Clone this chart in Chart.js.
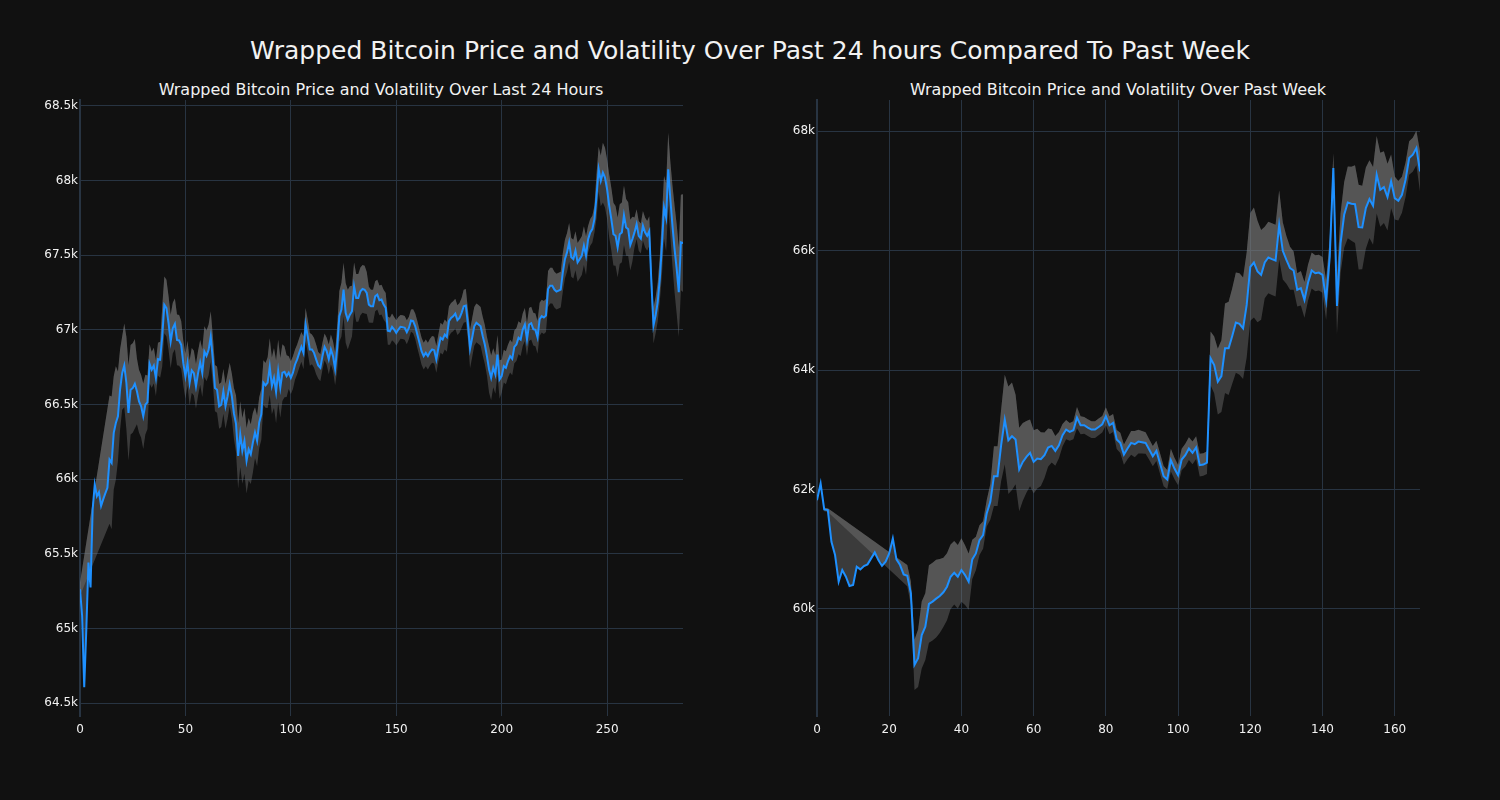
<!DOCTYPE html>
<html>
<head>
<meta charset="utf-8">
<script src="https://cdn.jsdelivr.net/npm/chart.js@4"></script>
<style>
  body { margin: 0; background: #111111; width: 1500px; height: 800px; overflow: hidden; font-family: "DejaVu Sans", sans-serif; color: #f2f2f2; }
  .title { position: absolute; white-space: nowrap; transform: translate(-50%, -50%); }
  .box { position: absolute; top: 90px; width: 720px; height: 660px; }
</style>
</head>
<body>
<div class="title" style="left:750px; top:50px; font-size:25px;">Wrapped Bitcoin Price and Volatility Over Past 24 hours Compared To Past Week</div>
<div class="title" style="left:381px; top:89px; font-size:16px;">Wrapped Bitcoin Price and Volatility Over Last 24 Hours</div>
<div class="title" style="left:1118px; top:89px; font-size:16px;">Wrapped Bitcoin Price and Volatility Over Past Week</div>
<div class="box" style="left:0px;"><canvas id="day" width="720" height="660"></canvas></div>
<div class="box" style="left:737px;"><canvas id="week" width="720" height="660"></canvas></div>
<script>
// 24h price (5 minute steps)
const dayPrice = [
  65263,65085,64606,64996,65441,65274,65797,65964,65886,65913,65820,65864,65904,65942,66131,66109,66310,66376,66421,66599,
  66710,66762,66644,66443,66599,66610,66639,66588,66521,66488,66421,66499,66515,66773,66733,66760,66677,66804,66800,66955,
  67167,67145,67045,66922,67011,67040,66933,66929,66900,66777,66688,66777,66644,66728,66710,66621,66710,66782,66710,66855,
  66826,66866,66955,66800,66610,66599,66488,66499,66588,66488,66555,66635,66557,66440,66370,66156,66301,66189,66256,66123,
  66200,66167,66245,66312,66256,66379,66434,66646,66628,66646,66753,66624,66679,66584,66724,66612,66713,66719,66690,66713,
  66679,66713,66768,66802,66846,66886,66846,67036,66958,66869,66869,66846,66802,66762,66746,66824,66886,66857,66802,66869,
  66824,66739,66880,67091,67136,67269,67114,67069,67102,67125,67292,67214,67214,67258,67274,67269,67247,67169,67158,67158,
  67225,67236,67198,67203,67169,67147,66995,66991,67020,67002,66980,67002,67020,67018,67013,66984,67013,67062,67058,67024,
  66969,66913,66857,66824,66846,66824,66851,66869,66864,66802,66880,66947,66935,66969,66953,67058,67080,67091,67109,67065,
  67080,67114,67158,67163,67036,66873,66947,67024,67047,67036,67024,66958,66902,66824,66735,66679,66746,66702,66835,66668,
  66690,66757,66746,66791,66824,66806,66886,66902,66947,66935,67002,67036,66935,67036,67045,67005,67000,66950,67071,67092,
  67083,67096,67274,67296,67296,67270,67256,67263,67270,67385,67474,67519,67586,67486,67474,67530,67452,67474,67497,67564,
  67497,67608,67653,67675,67742,67898,68076,67998,68053,68020,67942,67831,67742,67641,67630,67552,67641,67653,67768,67686,
  67675,67568,67608,67653,67708,67630,67612,67697,67653,67630,67662,67319,67029,67096,67185,67341,67564,67820,67753,68076,
  67875,67697,67541,67408,67252,67586,67581
];
// 24h volatility (band half width), null = no value
const dayVol = [
  45,null,null,null,null,null,null,null,null,null,null,null,null,null,430,445,380,380,300,270,
  245,280,310,320,300,300,300,220,210,210,220,200,180,130,120,120,120,110,120,200,
  190,190,180,180,170,170,170,170,160,150,150,150,150,150,150,150,150,150,160,170,
  170,170,170,160,155,155,150,150,150,150,150,145,150,170,190,220,220,220,220,220,
  210,200,200,170,170,170,170,150,150,170,190,190,200,210,210,200,190,170,140,110,
  110,110,100,100,100,100,110,110,110,110,100,100,100,90,90,90,90,90,100,100,
  100,110,150,170,180,180,200,200,190,170,160,160,160,160,160,160,140,120,110,110,
  100,100,100,100,100,100,95,90,90,85,85,85,80,80,80,80,75,75,80,85,
  90,90,90,90,90,90,90,90,90,90,90,100,100,100,100,100,100,100,100,100,
  100,100,110,110,100,130,130,130,130,130,130,130,130,130,155,150,130,130,130,130,
  110,110,110,110,110,110,110,110,110,110,110,110,110,110,110,110,110,110,110,110,
  110,110,120,120,120,120,120,120,120,130,130,130,130,130,130,130,130,130,130,130,
  130,90,90,90,90,150,150,170,200,200,200,210,210,210,200,200,200,200,200,190,
  180,170,150,100,100,100,100,100,100,100,100,120,120,120,130,150,200,210,230,245,
  250,270,290,300,300,320,327
];
// past week price (hourly)
const weekPrice = [
  61822,62100,61666,61655,61125,60903,60457,60652,60540,60384,60401,60707,60663,60719,60747,60847,60947,60819,60724,60791,
  60930,61181,60830,60735,60579,60557,60262,59064,59175,59565,59705,60084,60123,60173,60217,60279,60373,60540,60607,60540,
  60652,60568,60457,60830,60930,61153,61237,61599,61794,62223,62223,62741,63170,62825,62891,62836,62334,62462,62546,62613,
  62462,62518,62507,62574,62702,62730,62646,62741,62908,63003,62964,62992,63203,63075,63075,63036,63003,63003,63047,63092,
  63226,63075,63114,62836,62780,62585,62685,62780,62758,62802,62791,62780,62669,62557,62646,62435,62223,62167,62490,62351,
  62240,62501,62574,62685,62613,62702,62407,62418,62451,64196,64084,63804,63899,64363,64363,64570,64793,64771,64698,65089,
  65726,65799,65648,65592,65799,65883,65855,65832,66430,65994,65843,65704,65665,65341,65369,65173,65464,65665,65620,65631,
  65592,65173,65899,67380,65073,66123,66598,66804,66782,66776,66391,66385,66709,66860,66748,67268,67016,67061,66894,67156,
  66877,66832,66933,67184,67547,67603,67715,67324
];
const weekVol = [
  30,30,30,30,null,null,null,null,null,null,null,null,null,null,null,null,null,null,null,null,
  null,null,null,null,null,178,200,420,480,560,560,650,650,650,620,580,560,540,530,530,
  530,500,470,330,280,250,230,220,300,500,500,600,750,900,900,750,700,650,600,560,
  530,500,450,380,320,280,250,220,190,160,150,150,178,150,140,140,140,140,140,140,
  150,150,150,160,170,170,180,200,220,200,190,180,170,170,170,170,170,160,190,180,
  170,180,190,190,190,190,190,190,190,450,475,550,600,750,780,800,840,850,850,880,
  900,920,850,750,600,600,600,600,580,480,400,360,320,280,290,300,300,300,300,300,
  300,335,300,250,480,500,550,600,620,650,710,700,680,650,650,650,620,600,560,450,
  360,330,300,290,280,285,290,335
];
const dayTicksY = [64500, 65000, 65500, 66000, 66500, 67000, 67500, 68000, 68500];
const dayTicksX = [0, 50, 100, 150, 200, 250];
const weekTicksY = [60000, 62000, 64000, 66000, 68000];
const weekTicksX = [0, 20, 40, 60, 80, 100, 120, 140, 160];

const gridColor = "#283442";
const textColor = "#f2f2f2";
const band = "rgba(128,128,128,0.38)";
Chart.defaults.font.family = "'DejaVu Sans', sans-serif";
Chart.defaults.color = textColor;

function drawPanel(id, price, vol, yMin, yMax, yTicks, xTicks) {
  const pts = price.map((v, i) => ({ x: i, y: v }));
  const up = price.map((v, i) => ({ x: i, y: vol[i] == null ? null : v + vol[i] }));
  const lo = price.map((v, i) => ({ x: i, y: vol[i] == null ? null : v - vol[i] }));
  new Chart(document.getElementById(id), {
    type: "line",
    data: {
      datasets: [
        { data: pts, borderColor: "#1e90ff", borderWidth: 2, pointRadius: 0, fill: false },
        { data: up, borderWidth: 0, pointRadius: 0, spanGaps: true, fill: "-1", backgroundColor: band, borderColor: "rgba(0,0,0,0)" },
        { data: lo, borderWidth: 0, pointRadius: 0, spanGaps: true, fill: "-1", backgroundColor: band, borderColor: "rgba(0,0,0,0)" }
      ]
    },
    options: {
      responsive: false,
      animation: false,
      devicePixelRatio: 1,
      layout: { padding: { left: 0, top: 10, right: 37, bottom: 0 } },
      plugins: { legend: { display: false }, tooltip: { enabled: false } },
      scales: {
        x: {
          type: "linear", min: 0, max: price.length - 1,
          afterBuildTicks: (ax) => { ax.ticks = xTicks.map(v => ({ value: v })); },
          afterFit: (ax) => { ax.height = 34; },
          grid: { color: gridColor, drawTicks: false },
          border: { display: false },
          ticks: { padding: 7, font: { size: 12 }, color: textColor }
        },
        y: {
          min: yMin, max: yMax,
          afterBuildTicks: (ax) => { ax.ticks = yTicks.map(v => ({ value: v })); },
          afterFit: (ax) => { ax.width = 80; },
          grid: { color: gridColor, drawTicks: false },
          border: { color: gridColor, width: 2 },
          ticks: { padding: 2, font: { size: 12 }, color: textColor, callback: (v) => (v / 1000) + "k" }
        }
      }
    }
  });
}

drawPanel("day", dayPrice, dayVol, 64413, 68540, dayTicksY, dayTicksX);
drawPanel("week", weekPrice, weekVol, 58209, 68519, weekTicksY, weekTicksX);
</script>
</body>
</html>
